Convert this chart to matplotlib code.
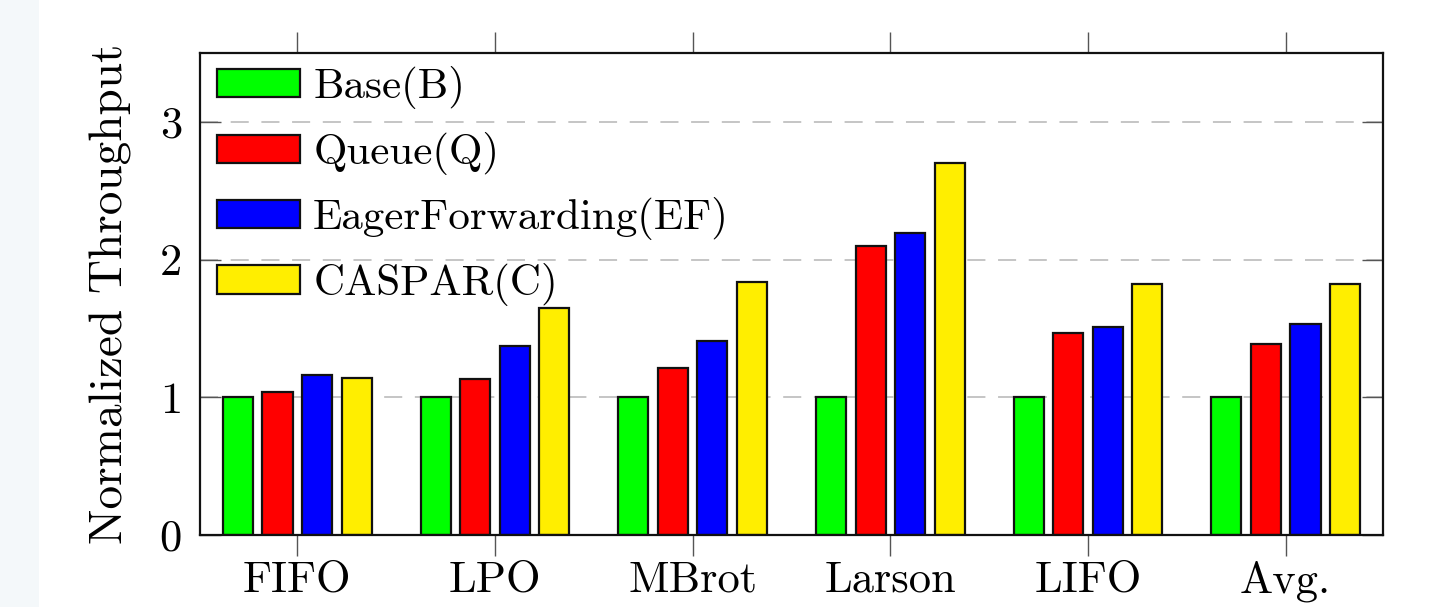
import matplotlib
matplotlib.use("Agg")
import matplotlib.pyplot as plt
import numpy as np
from matplotlib.patches import Rectangle

plt.rcParams['font.family'] = 'cmr10'
plt.rcParams['mathtext.fontset'] = 'cm'
plt.rcParams['axes.unicode_minus'] = False
plt.rcParams['axes.formatter.use_mathtext'] = True

categories = ["FIFO", "LPO", "MBrot", "Larson", "LIFO", "Avg."]
series_names = ["Base(B)", "Queue(Q)", "EagerForwarding(EF)", "CASPAR(C)"]
base = [1.0, 1.0, 1.0, 1.0, 1.0, 1.0]
queue = [1.04, 1.13, 1.21, 2.10, 1.47, 1.39]
eager = [1.16, 1.37, 1.41, 2.19, 1.51, 1.53]
caspar = [1.14, 1.65, 1.84, 2.70, 1.82, 1.82]
yticks = [0, 1, 2, 3]

colors = ["#00ff00", "#ff0000", "#0000ff", "#ffee00"]
series = [base, queue, eager, caspar]

W, H = 1439, 607
fig = plt.figure(figsize=(W / 100, H / 100), dpi=100)
fig.patches.append(Rectangle((0, 0), 39 / W, 1, transform=fig.transFigure,
                             facecolor="#f4f8fa", edgecolor="none", zorder=-10))
ax = fig.add_axes([200 / W, (H - 535) / H, (1383 - 200) / W, (535 - 53) / H])

x = np.arange(len(categories))
offsets = [-0.3, -0.1, 0.1, 0.3]
bw = 0.152
for s, vals, c, off in zip(series_names, series, colors, offsets):
    ax.bar(x + off, vals, width=bw, color=c, edgecolor="#111111",
           linewidth=1.6, label=s, zorder=3)

ax.set_xlim(-0.492, 5.492)
ax.set_ylim(0, 3.5)
ax.set_xticks(x)
ax.set_xticklabels(categories)
ax.set_yticks(yticks)
ax.set_yticklabels([str(t) for t in yticks])

ax.yaxis.grid(True, color="#c0c0c0", linestyle=(0, (10, 7)), linewidth=1.3, zorder=0)
ax.set_axisbelow(True)

ax.tick_params(axis="x", direction="out", top=True, bottom=True, length=15,
               width=1.0, color="#555555", labelsize=32, pad=3)
ax.tick_params(axis="y", direction="in", left=True, right=True, length=15,
               width=1.0, color="#555555", labelsize=32, pad=13)
for sp in ax.spines.values():
    sp.set_linewidth(1.6)
    sp.set_color("#111111")
    sp.set_zorder(5)

ax.set_ylabel("Normalized Throughput", fontsize=34, labelpad=20)

leg = ax.legend(loc="upper left", frameon=False, fontsize=31,
                bbox_to_anchor=(0.0145, 0.972),
                handlelength=1.93, handleheight=0.63, handletextpad=0.3,
                labelspacing=0.52, borderaxespad=0.0, borderpad=0.0)
for h in leg.legend_handles:
    h.set_linewidth(1.6)

fig.savefig("out.png", dpi=100)
